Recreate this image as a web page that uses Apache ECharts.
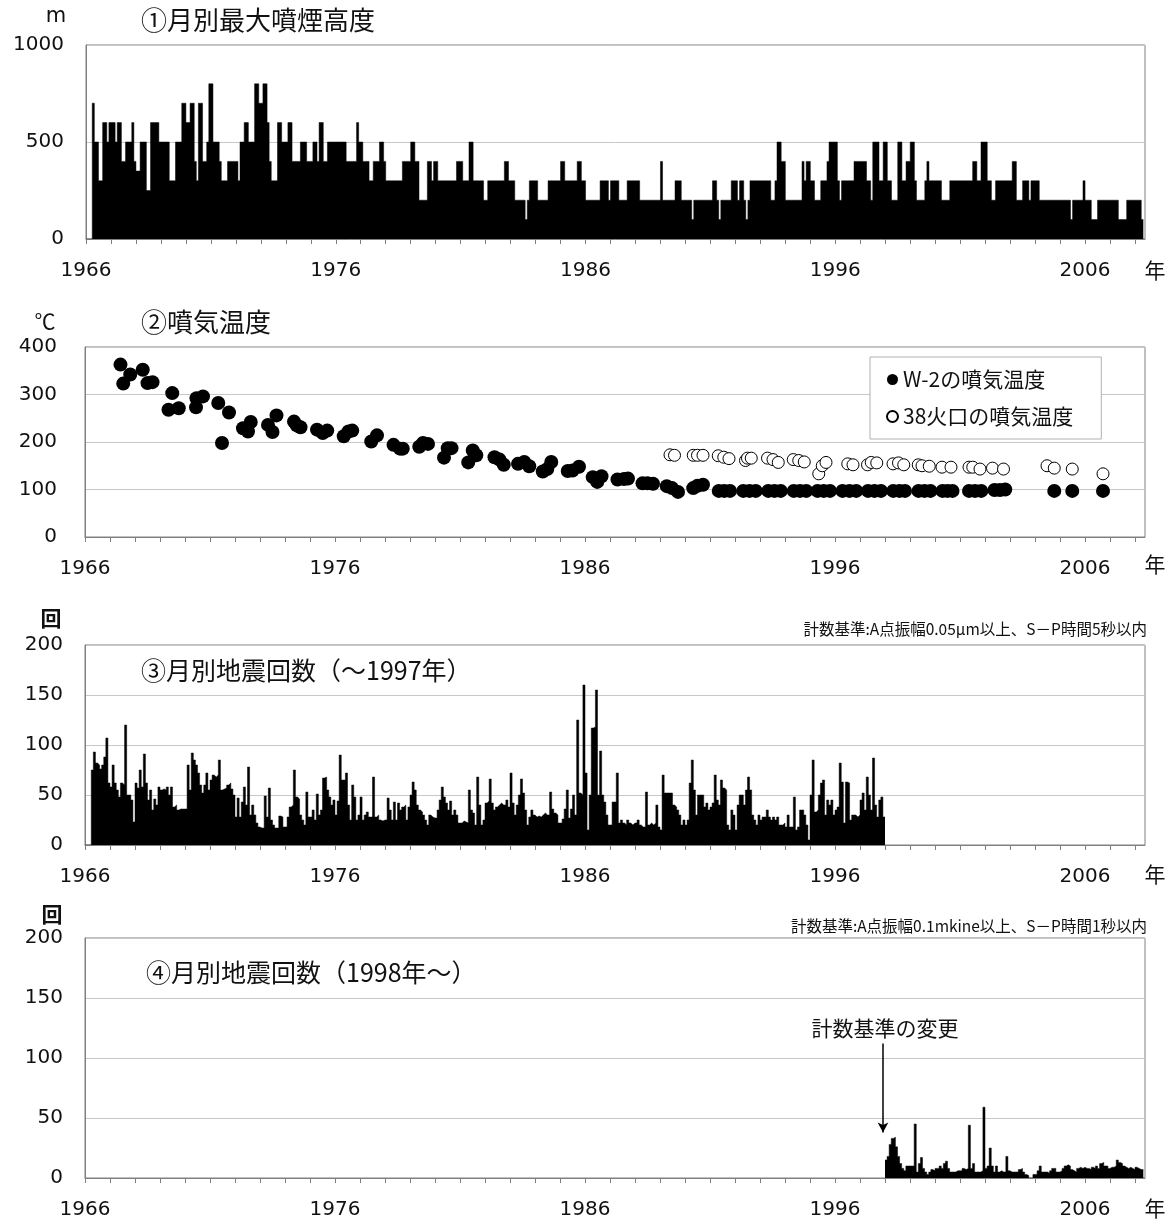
<!DOCTYPE html>
<html><head><meta charset="utf-8">
<script src="https://cdn.jsdelivr.net/npm/echarts@6/dist/echarts.min.js"></script>
<style>html,body{margin:0;padding:0;background:#fff}#c{width:1173px;height:1222px}</style>
</head><body><div id="c"></div>
<script>
// ---------- DATA ----------
const yearTicks = [1966,1967,1968,1969,1970,1971,1972,1973,1974,1975,1976,1977,1978,1979,1980,1981,1982,1983,1984,1985,1986,1987,1988,1989,1990,1991,1992,1993,1994,1995,1996,1997,1998,1999,2000,2001,2002,2003,2004,2005,2006,2007,2008];
const yearLabels = [1966,1976,1986,1996,2006];

// (1) monthly max plume height (m), Jan 1966 - Apr 2008
const smoke1966_1975 = [
 0,0,0,700,500,500,300,300,600,600,500,600,
 600,600,500,600,600,400,400,500,500,500,600,400,
 350,350,500,500,500,250,250,600,600,600,600,500,
 500,500,500,500,300,300,300,500,500,500,700,700,
 600,600,700,700,400,300,700,700,400,400,500,800,
 800,500,500,500,400,300,300,300,400,400,400,400,
 400,300,500,500,600,600,500,500,500,800,800,700,
 700,800,800,600,400,300,300,300,600,600,500,500,
 500,600,600,400,400,400,400,500,500,500,400,400,
 400,500,500,400,600,600,400,400,500,500,500,500];
const smoke1976_1985 = [
 500,500,500,500,500,400,400,400,400,400,600,500,
 500,400,400,400,300,300,400,400,400,500,500,400,
 300,300,300,300,300,300,300,300,400,400,400,400,
 500,500,400,400,200,200,200,200,400,400,300,400,
 400,300,300,300,300,300,300,300,300,300,400,400,
 400,300,300,300,500,500,300,300,300,300,300,200,
 200,300,300,300,300,300,300,300,300,400,400,300,
 300,300,200,200,200,200,200,100,200,300,300,300,
 300,200,200,200,200,200,300,300,300,300,300,300,
 400,400,300,300,300,300,300,300,400,400,300,300];
const smoke1986_1995 = [
 200,200,200,200,200,200,200,300,300,300,300,200,
 300,300,300,300,200,200,200,200,300,300,300,300,
 300,300,200,200,200,200,200,200,200,200,200,200,
 400,200,200,200,200,200,200,300,300,300,200,200,
 200,200,200,100,200,200,200,200,200,200,200,200,
 200,300,300,200,100,200,200,200,200,200,300,300,
 300,200,300,300,200,100,200,300,300,300,300,300,
 300,300,300,300,300,200,200,300,500,500,400,400,
 200,200,200,200,200,200,200,200,400,300,400,400,
 300,300,200,200,200,300,300,300,400,500,500,500];
const smoke1996_2008 = [
 500,300,200,300,300,300,300,300,300,400,400,400,
 400,400,400,300,300,200,500,500,500,300,300,500,
 500,300,300,200,200,200,500,500,300,300,400,400,
 500,500,300,200,200,200,200,300,400,300,300,300,
 300,300,300,200,200,200,200,300,300,300,300,300,
 300,300,300,300,300,300,400,400,300,300,500,500,
 500,300,300,200,200,300,300,300,300,300,300,300,
 300,400,400,200,200,200,300,300,300,200,300,300,
 300,300,200,200,200,200,200,200,200,200,200,200,
 200,200,200,200,200,100,200,200,200,200,200,300,
 200,200,200,100,100,100,200,200,200,200,200,200,
 200,200,200,200,100,100,100,100,200,200,200,200,
 200,200,200,100];

// (2) fumarole temperature (deg C)
const w2Year = [1967.42,1967.53,1967.81,1968.31,1968.50,1968.70,1969.34,1969.49,1969.75,1970.44,1970.46,1970.72,1971.33,1971.48,1971.76,1972.32,1972.52,1972.63,1973.32,1973.50,1973.66,1974.36,1974.47,1974.62,1975.28,1975.51,1975.69,1976.35,1976.54,1976.69,1977.45,1977.68,
 1978.34,1978.60,1978.71,1979.37,1979.52,1979.72,1980.36,1980.51,1980.66,1981.33,1981.51,1981.65,1982.38,1982.58,1982.75,1983.32,1983.57,1983.77,1984.31,1984.49,1984.65,1985.31,1985.50,1985.76,1986.31,1986.49,1986.66,1987.30,1987.56,1987.72,1988.30,1988.50,1988.72,1989.27,1989.48,1989.72,1990.33,1990.50,1990.72,
 1991.35,1991.57,1991.80,1992.33,1992.58,1992.83,1993.33,1993.58,1993.83,1994.35,1994.60,1994.85,1995.30,1995.55,1995.80,1996.30,1996.58,1996.85,1997.32,1997.58,1997.84,1998.33,1998.58,1998.80,1999.34,1999.58,1999.82,2000.30,2000.50,2000.70,2001.36,2001.60,2001.85,2002.38,2002.60,2002.81,2004.77,2005.49,2006.72];
const w2Temp = [363,323,342,352,324,326,268,303,271,273,292,296,282,198,262,229,222,242,236,221,256,243,235,231,226,219,224,212,222,224,201,214,
 194,186,186,190,198,196,167,187,187,157,182,172,168,163,152,154,158,149,138,143,158,139,140,148,126,116,128,121,122,123,113,113,112,107,103,95,103,108,110,
 97,97,97,97,97,97,97,97,97,97,97,97,97,97,97,97,97,97,97,97,97,97,97,97,97,97,97,97,97,97,97,97,97,99,99,100,97,97,97];
const c38Year = [1989.40,1989.58,1990.33,1990.50,1990.72,1991.33,1991.55,1991.76,1992.42,1992.50,1992.65,1993.30,1993.52,1993.73,1994.33,1994.55,1994.77,1995.35,1995.49,1995.64,1996.51,1996.72,1997.30,1997.45,1997.67,1998.32,1998.54,1998.75,1999.33,1999.48,1999.77,2000.28,2000.64,2001.36,2001.51,2001.80,2002.30,2002.74,2004.48,2004.77,2005.49,2006.72];
const c38Temp = [173,172,172,172,172,171,168,165,161,166,166,166,163,157,163,161,158,133,150,157,154,152,152,157,156,154,156,152,152,150,149,147,147,147,147,143,145,143,150,145,143,133];

// (3) monthly earthquake counts, Jan 1966 - Dec 1997
const quakeA1966_1981 = [
 0,0,0,75,93,82,80,76,80,88,107,62,
 58,80,62,55,48,62,60,120,50,50,45,23,
 62,57,75,58,91,62,45,55,35,46,40,58,
 55,56,55,58,50,58,38,40,35,36,36,36,
 36,80,55,92,85,80,72,60,52,60,72,55,
 65,70,68,70,85,55,56,57,60,62,56,50,
 28,47,28,43,58,40,78,30,40,30,22,18,
 17,17,49,28,57,25,20,17,17,29,28,18,
 18,28,38,40,75,48,46,30,25,20,53,28,
 28,35,25,51,30,35,67,68,55,48,40,45,
 30,44,90,65,65,72,40,25,60,48,25,30,
 48,25,30,33,28,28,68,28,30,25,24,25,
 25,47,35,25,43,25,42,35,38,40,25,38,
 50,63,55,40,35,33,30,25,20,30,28,27,
 27,35,45,58,48,42,35,44,30,35,30,22,
 22,24,23,22,55,35,32,20,68,40,20,25];
const quakeA1982_1997 = [
 42,44,66,42,35,38,40,42,40,40,45,38,
 72,42,30,40,50,66,52,35,20,28,35,30,
 28,29,28,30,32,30,30,53,36,32,30,22,
 22,26,36,55,27,36,50,30,125,52,50,160,
 72,15,50,117,118,155,50,94,50,43,30,20,
 20,43,43,72,22,25,22,20,25,22,20,22,
 22,25,20,18,18,53,20,22,20,22,40,18,
 15,70,52,52,52,52,40,38,35,30,20,25,
 20,25,62,85,55,30,50,50,50,38,42,35,
 38,42,70,45,40,65,57,55,20,15,35,30,
 15,40,50,50,40,55,68,55,30,25,20,30,
 25,28,28,35,28,25,28,25,28,20,20,22,
 18,30,18,18,48,15,18,35,35,30,20,5,
 50,85,33,35,50,62,65,30,45,40,45,30,
 35,38,82,63,22,63,62,25,30,30,28,30,
 45,52,35,68,50,35,87,40,28,45,48,28];

// (4) monthly earthquake counts, Jan 1998 - Apr 2008
const quakeB1998_2008 = [
 15,18,28,33,34,26,18,12,8,6,10,10,
 10,10,45,5,12,17,8,5,3,5,7,6,
 8,8,10,8,12,14,8,5,5,5,6,6,
 6,8,7,8,44,8,12,5,5,5,6,59,
 8,10,25,10,5,10,5,6,5,5,18,6,
 5,5,5,5,7,8,5,3,2,0,0,3,
 3,6,10,5,5,5,4,6,8,8,5,5,
 6,8,10,11,10,7,6,5,8,9,8,9,
 8,8,7,9,8,10,8,12,13,10,10,8,
 9,9,10,15,13,12,10,9,8,9,8,7,
 9,8,7,7];

// ---------- BUILD ----------
function monthly(vals, startYear){
  const pts = vals.map((v,i)=>[startYear + i/12, v]);
  pts.push([startYear + vals.length/12, vals[vals.length-1]]);
  return pts;
}
const smoke = [].concat(smoke1966_1975, smoke1976_1985, smoke1986_1995, smoke1996_2008);
const quakeA = [].concat(quakeA1966_1981, quakeA1982_1997);

const NUMFONT = 'DejaVu Sans';
const JPFONT = 'Noto Sans CJK JP';
const GRAY = '#808080';

function xAx(i){
  return {type:'value', gridIndex:i, min:1966, max:2008.4,
    axisLine:{show:true, onZero:false, lineStyle:{color:GRAY, width:1}},
    axisTick:{show:true, customValues:yearTicks, length:5, lineStyle:{color:GRAY}},
    axisLabel:{customValues:yearLabels, formatter:v=>String(v), margin:22, fontSize:20, color:'#111', fontFamily:NUMFONT},
    splitLine:{show:false}};
}
function yAx(i,max,interval,margin){
  return {type:'value', gridIndex:i, min:0, max:max, interval:interval,
    axisLine:{show:true, lineStyle:{color:GRAY, width:1}},
    axisTick:{show:false},
    axisLabel:{margin:margin, fontSize:20, color:'#111', fontFamily:NUMFONT, formatter:v=>String(v)},
    splitLine:{show:true, lineStyle:{color:'#c8c8c8', width:1}}};
}
function stepSeries(pts, idx, extra){
  return Object.assign({type:'line', xAxisIndex:idx, yAxisIndex:idx, step:'end', symbol:'none', showSymbol:false,
    data:pts, lineStyle:{width:0.5, color:'#000'}, areaStyle:{color:'#000', opacity:1}, silent:true, z:3}, extra||{});
}
function txt(x,y,text,size,align,font,weight){
  return {type:'text', x:x, y:y, silent:true, z:100,
    style:{text:text, fill:'#111', align:align||'left', verticalAlign:'middle',
      font:(weight||'normal')+' '+size+'px "'+(font||JPFONT)+'"'}};
}

const chart = echarts.init(document.getElementById('c'), null, {renderer:'canvas'});
chart.setOption({
  animation:false,
  backgroundColor:'#fff',
  textStyle:{fontFamily:NUMFONT},
  grid:[
    {left:86, right:28, top:45, height:194, show:true, borderColor:GRAY, borderWidth:1},
    {left:85, right:28, top:347, height:190, show:true, borderColor:GRAY, borderWidth:1},
    {left:85, right:28, top:645, height:200, show:true, borderColor:GRAY, borderWidth:1},
    {left:85, right:28, top:938, height:240, show:true, borderColor:GRAY, borderWidth:1}
  ],
  xAxis:[xAx(0), xAx(1), xAx(2), xAx(3)],
  yAxis:[yAx(0,1000,500,22), yAx(1,400,100,28), yAx(2,200,50,22), yAx(3,200,50,22)],
  legend:{show:true, orient:'vertical', left:870, top:357, padding:[12,28,12,16], itemGap:16,
    itemWidth:11, itemHeight:11, borderColor:'#b0b0b0', borderWidth:1, backgroundColor:'#fff',
    textStyle:{fontSize:21, color:'#111', fontFamily:JPFONT},
    data:['W-2の噴気温度','38火口の噴気温度']},
  series:[
    stepSeries(monthly(smoke,1966), 0),
    {type:'scatter', name:'W-2の噴気温度', xAxisIndex:1, yAxisIndex:1, symbol:'circle', symbolSize:14,
      data:w2Year.map((x,i)=>[x,w2Temp[i]]), itemStyle:{color:'#000', opacity:1}, z:4},
    {type:'scatter', name:'38火口の噴気温度', xAxisIndex:1, yAxisIndex:1, symbol:'circle', symbolSize:12,
      data:c38Year.map((x,i)=>[x,c38Temp[i]]), itemStyle:{color:'#fff', borderColor:'#000', borderWidth:1, opacity:1}, z:5},
    stepSeries(monthly(quakeA,1966), 2),
    stepSeries(monthly(quakeB1998_2008,1998), 3, {
      markLine:{silent:true, symbol:['none','arrow'], symbolSize:[8,10], label:{show:false},
        lineStyle:{color:'#000', width:1.5, type:'solid'},
        data:[[{coord:[1997.92,112]},{coord:[1997.92,38]}]]}
    })
  ],
  graphic:[
    txt(56,17,'m',21,'center',NUMFONT),
    txt(141,20,'①月別最大噴煙高度',26),
    txt(1155,270,'年',21,'center'),
    txt(45,321,'℃',21,'center'),
    txt(141,322,'②噴気温度',26),
    txt(1155,564,'年',21,'center'),
    txt(51,618,'回',21,'center',JPFONT,'bold'),
    txt(1147,629,'計数基準:A点振幅0.05μm以上、S－P時間5秒以内',15.5,'right'),
    txt(141,670,'③月別地震回数（〜1997年）',25),
    txt(1155,874,'年',21,'center'),
    txt(52,914,'回',21,'center',JPFONT,'bold'),
    txt(1147,926,'計数基準:A点振幅0.1mkine以上、S－P時間1秒以内',15.5,'right'),
    txt(146,972,'④月別地震回数（1998年〜）',25),
    txt(885,1028,'計数基準の変更',21,'center'),
    txt(1155,1208,'年',21,'center')
  ]
});
</script></body></html>
